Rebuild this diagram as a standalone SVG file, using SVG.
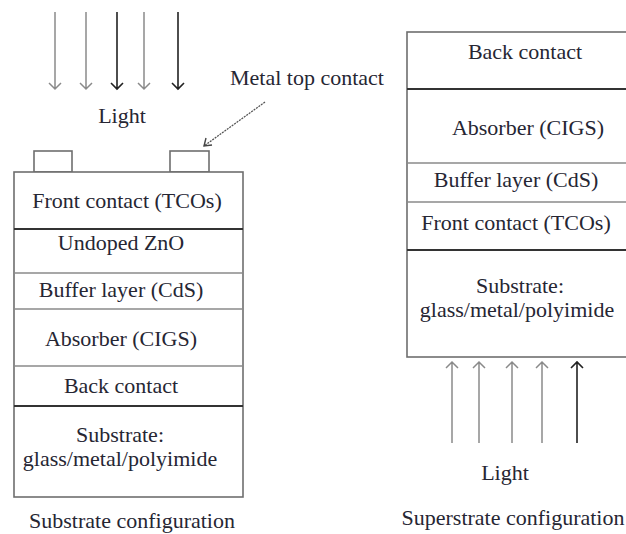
<svg xmlns="http://www.w3.org/2000/svg" width="626" height="534" viewBox="0 0 626 534">
<style>
text{font-family:"Liberation Serif","Times New Roman",serif;font-size:22px;fill:#262633;text-anchor:middle}
.frame{fill:#fff;stroke:#6e6e6e;stroke-width:1.6}
.sep{stroke:#8a8a8a;stroke-width:1.4}
.sepd{stroke:#333;stroke-width:1.8}
.lg{stroke:#8a8a8a;stroke-width:1.5;fill:none}
.ld{stroke:#222;stroke-width:1.6;fill:none}
</style>
<rect width="626" height="534" fill="#fff"/>

<g id="light-left">
  <path class="lg" d="M55 12V89M49 83L55 89L61 83"/>
  <path class="lg" d="M86 12V89M80 83L86 89L92 83"/>
  <path class="ld" d="M117 12V89M111 83L117 89L123 83"/>
  <path class="lg" d="M144 12V89M138 83L144 89L150 83"/>
  <path class="ld" d="M178 12V89M172 83L178 89L184 83"/>
  <text x="122" y="123">Light</text>
</g>

<g id="metal-contact-label">
  <text x="307" y="85">Metal top contact</text>
</g>

<g id="connectors">
  <path d="M265 102L204 146" stroke="#555" stroke-width="1.3" stroke-dasharray="2 1" fill="none"/>
  <path d="M206 138L204 146L212 145" stroke="#444" stroke-width="1.4" fill="none"/>
</g>

<g id="substrate-stack">
  <rect class="frame" x="34" y="151" width="38" height="21"/>
  <rect class="frame" x="170" y="151" width="39" height="21"/>
  <rect class="frame" x="14" y="172" width="229" height="325"/>
  <line class="sepd" x1="14" y1="229" x2="243" y2="229"/>
  <line class="sep" x1="14" y1="273" x2="243" y2="273"/>
  <line class="sep" x1="14" y1="309" x2="243" y2="309"/>
  <line class="sep" x1="14" y1="366" x2="243" y2="366"/>
  <line class="sepd" x1="14" y1="406" x2="243" y2="406"/>
  <text x="127" y="208">Front contact (TCOs)</text>
  <text x="121" y="250">Undoped ZnO</text>
  <text x="121" y="297">Buffer layer (CdS)</text>
  <text x="121" y="346">Absorber (CIGS)</text>
  <text x="121" y="393">Back contact</text>
  <text x="120" y="442">Substrate:</text>
  <text x="120" y="466">glass/metal/polyimide</text>
  <text x="132" y="528">Substrate configuration</text>
</g>

<g id="superstrate-stack">
  <rect class="frame" x="407" y="32" width="225" height="325"/>
  <line class="sepd" x1="407" y1="89" x2="626" y2="89"/>
  <line class="sep" x1="407" y1="163" x2="626" y2="163"/>
  <line class="sep" x1="407" y1="202" x2="626" y2="202"/>
  <line class="sepd" x1="407" y1="250" x2="626" y2="250"/>
  <text x="525" y="59">Back contact</text>
  <text x="528" y="135">Absorber (CIGS)</text>
  <text x="516" y="187">Buffer layer (CdS)</text>
  <text x="516" y="230">Front contact (TCOs)</text>
  <text x="520" y="293">Substrate:</text>
  <text x="517" y="317">glass/metal/polyimide</text>
</g>

<g id="light-right">
  <path class="lg" d="M452 443V362M446 368L452 362L458 368"/>
  <path class="lg" d="M479 443V362M473 368L479 362L485 368"/>
  <path class="lg" d="M512 443V362M506 368L512 362L518 368"/>
  <path class="lg" d="M542 443V362M536 368L542 362L548 368"/>
  <path class="ld" d="M577 443V362M571 368L577 362L583 368"/>
  <text x="505" y="480">Light</text>
  <text x="513" y="525">Superstrate configuration</text>
</g>
</svg>
